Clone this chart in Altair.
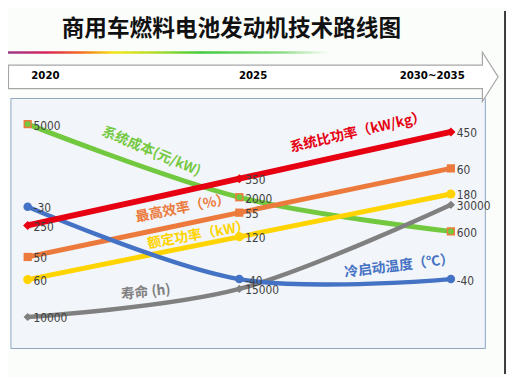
import altair as alt
import pandas as pd

# ---------------- data ----------------
stages = ["2020", "2025", "2030~2035"]
stage_idx = [0, 1, 2]
title_text = "商用车燃料电池发动机技术路线图"

power_density = [250, 350, 450]        # 系统比功率（kW/kg）
peak_efficiency = [50, 55, 60]         # 最高效率（%）
rated_power = [60, 120, 180]           # 额定功率（kW）
lifetime = [10000, 15000, 30000]       # 寿命 (h)
system_cost = [5000, 2000, 600]        # 系统成本(元/kW)
cold_start = [-30, -40, -40]           # 冷启动温度（℃）

series_names = ["系统比功率（kW/kg）", "最高效率（%）", "额定功率（kW）",
                "寿命 (h)", "系统成本(元/kW)", "冷启动温度（℃）"]

# ---------------- layout / style ----------------
W, H = 506, 369
CJK = "Noto Sans CJK SC"
NUM = "DejaVu Sans Condensed, Liberation Sans Narrow, sans-serif"
RED, ORANGE, YELLOW, GRAY, GREEN, BLUE = "#e60012", "#ec7a3c", "#ffd400", "#808080", "#72c93f", "#4472c4"

xsc = alt.Scale(domain=[0, 2], range=[20, 450], nice=False, zero=False)
one = pd.DataFrame({"k": [0]})

layers = []

# background panel
layers.append(alt.Chart(one).mark_rect(fill="#f2f5f9", stroke="#8ea4c2", strokeWidth=1).encode(
    x=alt.value(3), x2=alt.value(485), y=alt.value(89), y2=alt.value(343)))

# rainbow line under title
rainbow = alt.Gradient(
    gradient="linear", x1=0, x2=1, y1=0, y2=0,
    stops=[alt.GradientStop(color="#9b3a8c", offset=0),
           alt.GradientStop(color="#d8245a", offset=0.12),
           alt.GradientStop(color="#f26522", offset=0.22),
           alt.GradientStop(color="#f5e614", offset=0.33),
           alt.GradientStop(color="#b5dc2c", offset=0.45),
           alt.GradientStop(color="#3fca3a", offset=0.6),
           alt.GradientStop(color="#8edc88", offset=0.85),
           alt.GradientStop(color="#ffffff", offset=1)])
layers.append(alt.Chart(one).mark_rect(fill=rainbow).encode(
    x=alt.value(0), x2=alt.value(327), y=alt.value(41), y2=alt.value(43.5)))

# timeline arrow
arrow = pd.DataFrame({"x": [0.5, 482, 482.01, 498], "y": [55, 55, 42, 67], "y2": [79, 79, 92, 67]})
layers.append(alt.Chart(arrow).mark_area(fill="white", stroke="#a6a6a6", strokeWidth=1.2).encode(
    x=alt.X("x:Q", scale=None, axis=None),
    y=alt.Y("y:Q", scale=None, axis=None, stack=None),
    y2="y2:Q"))

# year labels on the arrow
year_x = [38, 249, 431]
for s, xp in zip(stages, year_x):
    layers.append(alt.Chart(one).mark_text(font=NUM, fontSize=11.5, fontWeight="bold", color="#000000",
                                           align="center", baseline="middle").encode(
        x=alt.value(xp), y=alt.value(66), text=alt.value(s)))

# title
layers.append(alt.Chart(one).mark_text(font=CJK, fontSize=23, fontWeight="bold", color="#111111",
                                       align="center", baseline="middle").encode(
    x=alt.value(227), y=alt.value(18), text=alt.value(title_text)))

# right frame edge
layers.append(alt.Chart(one).mark_rule(color="#3a3a3a", strokeWidth=2).encode(
    x=alt.value(505), y=alt.value(0), y2=alt.value(H)))


def series(values, color, yrange, shape, size, width):
    df = pd.DataFrame({"stage": stage_idx, "v": values, "label": [str(v) for v in values]})
    ysc = alt.Scale(domain=[min(values), max(values)], range=yrange, nice=False, zero=False)
    x = alt.X("stage:Q", scale=xsc, axis=None)
    y = alt.Y("v:Q", scale=ysc, axis=None)
    out = [alt.Chart(df).mark_line(color=color, strokeWidth=width, interpolate="cardinal",
                                   strokeCap="round").encode(x=x, y=y)]
    if shape == "combo":
        out.append(alt.Chart(df).mark_point(filled=True, shape="square", size=70, color=ORANGE,
                                            opacity=1).encode(x=x, y=y))
        out.append(alt.Chart(df).mark_point(filled=True, shape="circle", size=36, color=GREEN,
                                            opacity=1).encode(x=x, y=y))
    else:
        out.append(alt.Chart(df).mark_point(filled=True, shape=shape, size=size, color=color,
                                            opacity=1).encode(x=x, y=y))
    out.append(alt.Chart(df).mark_text(font=NUM, fontSize=12, color="#404040", align="left",
                                       baseline="middle", dx=6, dy=1.5).encode(x=x, y=y, text="label:N"))
    return out


layers += series(system_cost, GREEN, [224, 115], "combo", 0, 5)
layers += series(lifetime, GRAY, [311, 197], "diamond", 70, 4.5)
layers += series(rated_power, YELLOW, [273, 186], "circle", 85, 5)
layers += series(peak_efficiency, ORANGE, [250, 160], "square", 70, 5)
layers += series(cold_start, BLUE, [272.5, 199], "circle", 75, 4.5)
layers += series(power_density, RED, [218, 123], "diamond", 85, 6)

# series name annotations (rotated along the curves)
ann = [
    (series_names[0], RED, 355.5, 123.5, 347),
    (series_names[1], ORANGE, 177.5, 201, 349),
    (series_names[2], YELLOW, 193.5, 228, 350),
    (series_names[3], GRAY, 140, 286, 354),
    (series_names[4], GREEN, 145.5, 143, 23),
    (series_names[5], BLUE, 397.5, 259.5, 353),
]
for name, color, xp, yp, ang in ann:
    layers.append(alt.Chart(one).mark_text(font=CJK, fontSize=14, fontWeight="bold", color=color,
                                           align="center", baseline="middle", angle=ang).encode(
        x=alt.value(xp), y=alt.value(yp), text=alt.value(name)))

chart = alt.layer(*layers).resolve_scale(x="independent", y="independent").properties(
    width=W, height=H, padding=0, autosize="none", background="#fbfdfb"
).configure_view(stroke=None)

chart.save("out.html", embed_options={"renderer": "svg", "actions": False})
